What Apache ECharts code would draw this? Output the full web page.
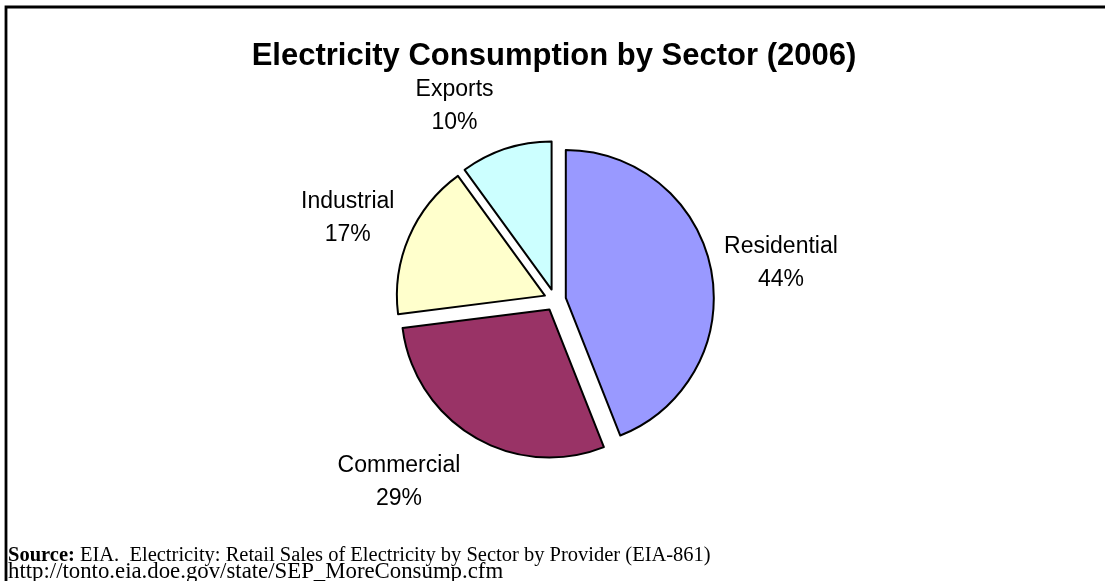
<!DOCTYPE html>
<html>
<head>
<meta charset="utf-8">
<script src="https://cdn.jsdelivr.net/npm/echarts@6/dist/echarts.min.js"></script>
<style>
  html, body { margin: 0; padding: 0; background: #fff; }
  #chart { width: 1105px; height: 581px; }
</style>
</head>
<body>
<div id="chart"></div>
<script>
// ---- data ----
const categories = ['Residential', 'Commercial', 'Industrial', 'Exports'];
const values = [44, 29, 17, 10];
const colors = ['#9999FF', '#993366', '#FFFFCC', '#CCFFFF'];
const titleText = 'Electricity Consumption by Sector (2006)';
const sourceLabel = 'Source:';
const sourceText = ' EIA.  Electricity: Retail Sales of Electricity by Sector by Provider (EIA-861)';
const sourceUrl = 'http://tonto.eia.doe.gov/state/SEP_MoreConsump.cfm';

// label nudges (Excel best-fit placement)
const labelNudge = {
  Residential: [2, 6],
  Commercial: [-40, -14],
  Industrial: [2, 9],
  Exports: [-30, 23]
};

const chart = echarts.init(document.getElementById('chart'), null, { renderer: 'canvas' });

const pieData = categories.map((c, i) => ({
  name: c,
  value: values[i],
  selected: true,
  itemStyle: { color: colors[i] }
}));
const labelData = categories.map((c, i) => ({ name: c, value: values[i] }));

const serif = 'Liberation Serif, Times New Roman, serif';

const option = {
  animation: false,
  backgroundColor: '#ffffff',
  title: [
    {
      text: titleText,
      left: 554,
      top: 41,
      textAlign: 'center',
      padding: 0,
      textStyle: {
        fontFamily: 'Liberation Sans, Arial, sans-serif',
        fontSize: 31,
        fontWeight: 'bold',
        color: '#000'
      }
    },
    {
      text: '{b|' + sourceLabel + '}{t|' + sourceText + '}\n{u|' + sourceUrl + '}',
      left: 8,
      top: 546,
      padding: 0,
      textStyle: {
        fontFamily: serif,
        fontSize: 20.5,
        fontWeight: 'normal',
        color: '#000',
        lineHeight: 20,
        rich: {
          b: { fontFamily: serif, fontSize: 20.5, fontWeight: 'bold', color: '#000', lineHeight: 20 },
          t: { fontFamily: serif, fontSize: 20.5, color: '#000', lineHeight: 20 },
          u: { fontFamily: serif, fontSize: 22.8, color: '#000', lineHeight: 12 }
        }
      }
    }
  ],
  graphic: [
    {
      type: 'polyline',
      silent: true,
      shape: { points: [[6, 581], [6, 7], [1105, 7]] },
      style: { stroke: '#000', lineWidth: 2.8, fill: null }
    }
  ],
  series: [
    {
      type: 'pie',
      center: [555, 300],
      radius: [0, 148],
      startAngle: 90,
      clockwise: true,
      selectedMode: 'multiple',
      selectedOffset: 11,
      avoidLabelOverlap: false,
      label: { show: false },
      labelLine: { show: false },
      itemStyle: { borderColor: '#000', borderWidth: 2 },
      select: { itemStyle: { borderColor: '#000', borderWidth: 2 } },
      emphasis: { disabled: true },
      data: pieData
    },
    {
      type: 'pie',
      center: [555, 300],
      radius: [0, 450],
      startAngle: 90,
      clockwise: true,
      silent: true,
      avoidLabelOverlap: false,
      selectedMode: false,
      z: 1,
      itemStyle: { color: 'rgba(0,0,0,0)', borderWidth: 0 },
      emphasis: { disabled: true },
      labelLine: { show: false },
      label: {
        show: true,
        position: 'inside',
        formatter: '{b}\n{d}%',
        fontFamily: 'Liberation Sans, Arial, sans-serif',
        fontSize: 23,
        lineHeight: 33,
        color: '#000',
        align: 'center'
      },
      labelLayout: function (params) {
        const name = categories[params.dataIndex];
        const n = labelNudge[name] || [0, 0];
        return { dx: n[0], dy: n[1] };
      },
      data: labelData
    }
  ]
};

chart.setOption(option);
</script>
</body>
</html>
